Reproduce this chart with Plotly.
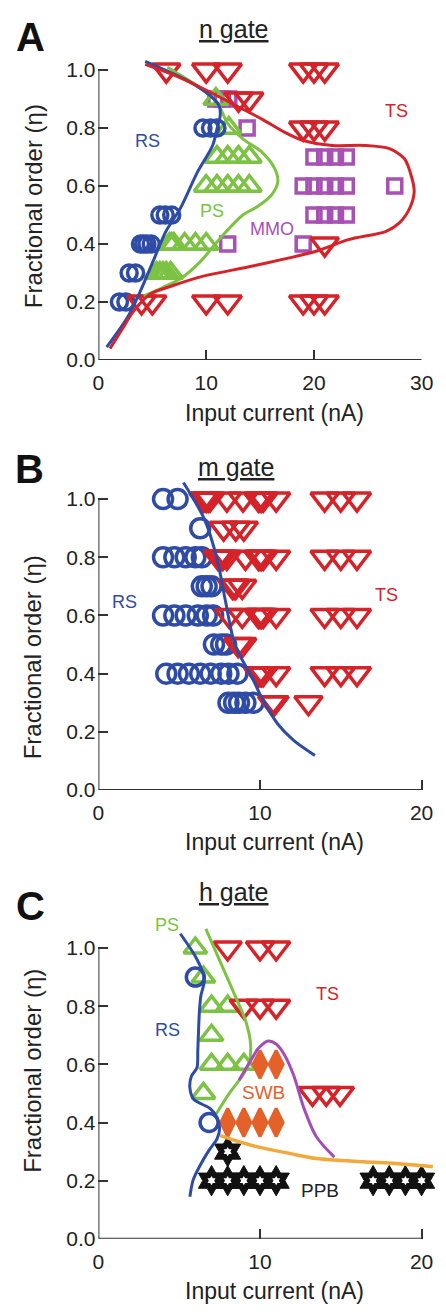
import plotly.graph_objects as go

W, H = 446, 1315

# ---------------- Panel A (n gate) ----------------
rs_a_x = [9.7, 10.4, 11.0, 5.7, 6.2, 6.8, 3.9, 4.2, 4.5, 4.9, 2.85, 3.45, 1.95, 2.55]
rs_a_eta = [0.8, 0.8, 0.8, 0.5, 0.5, 0.5, 0.4, 0.4, 0.4, 0.4, 0.3, 0.3, 0.2, 0.2]

ps_a_x = [10.9, 12.1, 11, 12, 13, 14, 10, 11, 12, 13, 14, 6.6, 6.8, 7.0, 8.0, 9.0, 10.0, 5.4, 5.7, 6.0, 6.3, 6.7]
ps_a_eta = [0.9, 0.8, 0.7, 0.7, 0.7, 0.7, 0.6, 0.6, 0.6, 0.6, 0.6, 0.4, 0.4, 0.4, 0.4, 0.4, 0.4, 0.3, 0.3, 0.3, 0.3, 0.3]

mmo_a_x = [10.9, 11.5, 12.1, 13.8, 20, 21, 22, 23, 19, 20, 21, 22, 23, 27.5, 20, 21, 22, 23, 12, 19]
mmo_a_eta = [0.9, 0.9, 0.9, 0.8, 0.7, 0.7, 0.7, 0.7, 0.6, 0.6, 0.6, 0.6, 0.6, 0.6, 0.5, 0.5, 0.5, 0.5, 0.4, 0.4]

ts_a_x = [6.3, 10, 12, 19, 20, 21, 13, 14, 19, 20, 21, 21, 4, 5, 10, 12, 19, 20, 21]
ts_a_eta = [1.0, 1.0, 1.0, 1.0, 1.0, 1.0, 0.9, 0.9, 0.8, 0.8, 0.8, 0.4, 0.2, 0.2, 0.2, 0.2, 0.2, 0.2, 0.2]

rs_curve_a_x = [4.34, 8.35, 10.4, 11.2, 11.3, 11.0, 10.6, 9.2, 7.6, 6.27, 5.08, 3.9, 2.7, 0.77]
rs_curve_a_eta = [1.03, 0.962, 0.911, 0.877, 0.843, 0.797, 0.74, 0.649, 0.523, 0.444, 0.341, 0.238, 0.147, 0.044]

ts_curve_a_x = [4.34, 6.86, 9.83, 12.8, 15.17, 17.25, 19.0, 21.7, 24.7, 27.0, 28.4, 29.1, 29.3, 28.9, 27.9,
                26.7, 23.2, 20.2, 14.3, 9.83, 6.86, 4.78, 3.3, 2.1, 1.07]
ts_curve_a_eta = [1.02, 0.985, 0.934, 0.877, 0.831, 0.786, 0.757, 0.74, 0.74, 0.729, 0.694, 0.626, 0.58, 0.525, 0.472,
                  0.444, 0.415, 0.375, 0.324, 0.29, 0.256, 0.227, 0.17, 0.10, 0.039]

ps_curve_a_x = [6.4, 9.2, 11.0, 12.0, 13.4, 15.17, 16.36, 16.65, 16.06, 14.8, 13.4, 11.3, 9.5, 7.75, 5.97, 4.2]
ps_curve_a_eta = [1.01, 0.945, 0.89, 0.815, 0.763, 0.717, 0.66, 0.615, 0.569, 0.53, 0.5, 0.42, 0.341, 0.284, 0.25, 0.221]

# ---------------- Panel B (m gate) ----------------
rs_b_x = [4.0, 4.9, 6.3, 4.0, 4.7, 5.4, 6.0, 6.4, 6.4, 6.7, 7.0, 4.0, 4.7, 5.4, 6.15, 6.7, 7.1,
          7.15, 7.6, 7.9, 4.2, 4.9, 5.6, 6.3, 6.95, 7.6, 8.05, 8.6, 8.05, 8.4, 8.7, 9.1, 9.6]
rs_b_eta = [1.0, 1.0, 0.9, 0.8, 0.8, 0.8, 0.8, 0.8, 0.7, 0.7, 0.7, 0.6, 0.6, 0.6, 0.6, 0.6, 0.6,
            0.5, 0.5, 0.5, 0.4, 0.4, 0.4, 0.4, 0.4, 0.4, 0.4, 0.4, 0.3, 0.3, 0.3, 0.3, 0.3]

ts_b_x = [6.5, 6.6, 6.7, 6.8, 6.9, 7.95, 8.95, 9.9, 10.0, 10.1, 10.2, 11.0, 14, 15, 16,
          7.75, 8.5, 9.0,
          7.4, 7.5, 7.6, 7.7, 7.95, 9.1, 9.9, 10.0, 10.1, 10.2, 11.0, 14, 15, 16,
          8.3, 8.4, 8.5, 8.9,
          8.1, 8.9, 9.9, 10.0, 10.1, 10.2, 11.0, 14, 15, 16,
          8.65, 8.9,
          9.9, 10.0, 10.1, 10.2, 11.0, 14, 15, 16,
          10.75, 10.9, 13.0]
ts_b_eta = [1.0, 1.0, 1.0, 1.0, 1.0, 1.0, 1.0, 1.0, 1.0, 1.0, 1.0, 1.0, 1.0, 1.0, 1.0,
            0.9, 0.9, 0.9,
            0.8, 0.8, 0.8, 0.8, 0.8, 0.8, 0.8, 0.8, 0.8, 0.8, 0.8, 0.8, 0.8, 0.8,
            0.7, 0.7, 0.7, 0.7,
            0.6, 0.6, 0.6, 0.6, 0.6, 0.6, 0.6, 0.6, 0.6, 0.6,
            0.5, 0.5,
            0.4, 0.4, 0.4, 0.4, 0.4, 0.4, 0.4, 0.4,
            0.3, 0.3, 0.3]

rs_curve_b_x = [5.26, 6.55, 7.34, 7.83, 8.33, 8.72, 9.52, 10.1, 11.1, 12.1, 13.4]
rs_curve_b_eta = [1.057, 0.932, 0.795, 0.659, 0.523, 0.466, 0.386, 0.318, 0.227, 0.17, 0.119]

# ---------------- Panel C (h gate) ----------------
ts_c_x = [8, 10, 11, 9, 10, 11, 13.25, 14.1, 14.95]
ts_c_eta = [1.0, 1.0, 1.0, 0.8, 0.8, 0.8, 0.5, 0.5, 0.5]

ps_c_x = [6, 6.5, 7, 8, 7, 7, 8, 9, 6.5]
ps_c_eta = [1.0, 0.9, 0.8, 0.8, 0.7, 0.6, 0.6, 0.6, 0.5]

rs_c_x = [6.0, 6.85]
rs_c_eta = [0.9, 0.4]

swb_c_x = [10, 11, 8, 9, 10, 11]
swb_c_eta = [0.6, 0.6, 0.4, 0.4, 0.4, 0.4]

ppb_c_x = [8, 7, 8, 9, 10, 11, 17, 18, 19, 20]
ppb_c_eta = [0.3, 0.2, 0.2, 0.2, 0.2, 0.2, 0.2, 0.2, 0.2, 0.2]

rs_curve_c_x = [5.07, 5.96, 6.45, 6.55, 6.35, 6.25, 6.15, 6.1, 5.76, 5.66, 5.9, 6.94, 7.34, 7.5, 7.34, 6.85,
                6.25, 5.86, 5.66]
rs_curve_c_eta = [1.049, 0.975, 0.917, 0.884, 0.838, 0.781, 0.645, 0.588, 0.56, 0.52, 0.48, 0.447, 0.418, 0.378,
                  0.344, 0.305, 0.248, 0.202, 0.145]

ps_curve_c_x = [6.65, 7.54, 8.53, 9.12, 9.42, 9.3, 8.9, 8.1, 7.3]
ps_curve_c_eta = [1.066, 0.952, 0.827, 0.748, 0.668, 0.6, 0.56, 0.5, 0.43]

swb_curve_c_x = [8.7, 9.5, 9.9, 10.5, 11.0, 11.5, 12.1, 12.7, 13.5, 14.6]
swb_curve_c_eta = [0.545, 0.62, 0.655, 0.68, 0.67, 0.634, 0.56, 0.452, 0.35, 0.281]

ppb_curve_c_x = [7.54, 9.52, 11.9, 13.5, 16.4, 18.4, 20.7]
ppb_curve_c_eta = [0.355, 0.321, 0.293, 0.276, 0.265, 0.259, 0.248]

yticks = [0.0, 0.2, 0.4, 0.6, 0.8, 1.0]
ytick_text = ["0.0", "0.2", "0.4", "0.6", "0.8", "1.0"]
xticks_a = [0, 10, 20, 30]
xticks_bc = [0, 10, 20]

# ---------------- Styling ----------------
BLUE = "#2E4BA6"
RED = "#D52329"
GREEN = "#7CC243"
MAGENTA = "#A651B3"
PURPLE = "#A34DB9"
ORANGE = "#E4622A"
GOLD = "#F0A93A"
AXIS = "#333333"
FONT = "Liberation Sans, Arial, sans-serif"

fig = go.Figure()


def pts(x, y, ax, symbol, size, color, lw=3.5, fill=None):
    fig.add_trace(go.Scatter(
        x=x, y=y, xaxis=ax[0], yaxis=ax[1], mode="markers", cliponaxis=False,
        marker=dict(symbol=symbol, size=size, color=fill if fill else color,
                    line=dict(color=color, width=lw)),
        showlegend=False, hoverinfo="skip"))


def curve(x, y, ax, color, w=3):
    fig.add_trace(go.Scatter(
        x=x, y=y, xaxis=ax[0], yaxis=ax[1], mode="lines", cliponaxis=False,
        line=dict(color=color, width=w, shape="spline", smoothing=0.8),
        showlegend=False, hoverinfo="skip"))


A = ("x", "y")
B = ("x2", "y2")
C = ("x3", "y3")

# Panel A
pts(mmo_a_x, mmo_a_eta, A, "square-open", 14, MAGENTA)
pts(ps_a_x, ps_a_eta, A, "triangle-up-open", 21, GREEN)
pts(rs_a_x, rs_a_eta, A, "circle-open", 16, BLUE)
pts(ts_a_x, ts_a_eta, A, "triangle-down-open", 24, RED)
curve(ps_curve_a_x, ps_curve_a_eta, A, GREEN)
curve(rs_curve_a_x, rs_curve_a_eta, A, BLUE)
curve(ts_curve_a_x, ts_curve_a_eta, A, RED)

# Panel B
pts(rs_b_x, rs_b_eta, B, "circle-open", 19, BLUE)
pts(ts_b_x, ts_b_eta, B, "triangle-down-open", 24, RED)
curve(rs_curve_b_x, rs_curve_b_eta, B, BLUE)

# Panel C
pts(ps_c_x, ps_c_eta, C, "triangle-up-open", 20, GREEN)
pts(rs_c_x, rs_c_eta, C, "circle-open", 18, BLUE)
pts(ts_c_x, ts_c_eta, C, "triangle-down-open", 24, RED)
pts(swb_c_x, swb_c_eta, C, "diamond-tall", 20, ORANGE, lw=3, fill=ORANGE)
pts(ppb_c_x, ppb_c_eta, C, "hexagram", 23, "#111111", lw=1, fill="#111111")
pts(ppb_c_x, ppb_c_eta, C, "hexagram", 7, "#ffffff", lw=0, fill="#ffffff")
curve(ps_curve_c_x, ps_curve_c_eta, C, GREEN)
curve(rs_curve_c_x, rs_curve_c_eta, C, BLUE)
curve(swb_curve_c_x, swb_curve_c_eta, C, PURPLE)
curve(ppb_curve_c_x, ppb_curve_c_eta, C, GOLD, w=3.5)


def ydom(zero_px, top_px):
    return [(H - zero_px) / H, (H - top_px) / H]


YMAX = 1.08
ax_common = dict(showline=False, zeroline=False, showgrid=False, ticks="inside", ticklen=10,
                 tickwidth=2, tickcolor=AXIS, tickfont=dict(family=FONT, size=21, color="#222"))

x0 = 96.3 / W
layout_axes = {}
for i, (xr, xt, zero_px, scale) in enumerate([
        ([0, 30], xticks_a, 363.0, 292.3),
        ([0, 20.77], xticks_bc, 796.7, 293.4),
        ([0, 20.77], xticks_bc, 1249.3, 293.3)]):
    sfx = "" if i == 0 else str(i + 1)
    xend = (96.3 + 11.23 * 30) / W if i == 0 else 1.0
    layout_axes["xaxis" + sfx] = dict(ax_common, domain=[x0, xend], range=xr, tickvals=xt,
                                      ticktext=[str(v) for v in xt], anchor="y" + sfx,
                                      ticklabelstandoff=8)
    layout_axes["yaxis" + sfx] = dict(ax_common, domain=ydom(zero_px, zero_px - YMAX * scale),
                                      range=[0, YMAX], tickvals=yticks, ticktext=ytick_text,
                                      anchor="x" + sfx, ticklabelstandoff=2)

fig.update_layout(**layout_axes)

# spines
shapes = []
for sfx, xmax in [("", 30), ("2", 20), ("3", 20)]:
    shapes.append(dict(type="line", xref="x" + sfx, yref="y" + sfx, x0=0, x1=0, y0=0, y1=1.0,
                       line=dict(color=AXIS, width=2), layer="below"))
    shapes.append(dict(type="line", xref="x" + sfx, yref="y" + sfx, x0=0, x1=xmax, y0=0, y1=0,
                       line=dict(color=AXIS, width=2), layer="below"))

annotations = []


def note(text, xp, yp, size, color="#222", bold=False, angle=0):
    annotations.append(dict(text=("<b>%s</b>" % text) if bold else text, x=xp / W, y=1 - yp / H,
                            xref="paper", yref="paper", showarrow=False, xanchor="center",
                            yanchor="middle", textangle=angle,
                            font=dict(family=FONT, size=size, color=color)))


# panel letters and gate titles
note("A", 26, 37, 40, "#111", bold=True)
note("B", 24, 473, 40, "#111", bold=True)
note("C", 26, 914, 40, "#111", bold=True)
note("<u>n gate</u>", 238, 29, 25, "#222")
note("<u>m gate</u>", 240, 471, 25, "#222")
note("<u>h gate</u>", 238, 900, 25, "#222")

# axis titles
for xc, yc in [(280, 416), (280, 849), (280, 1302)]:
    note("Input current (nA)", xc, yc, 23, "#222")
for xc, yc in [(28, 208), (28, 663), (28, 1080)]:
    note("Fractional order (η)", xc, yc, 24, "#222", angle=-90)

# region labels
note("RS", 147, 142, 18, BLUE)
note("PS", 215, 213, 18, GREEN)
note("MMO", 277, 231, 18, MAGENTA)
note("TS", 407, 112, 18, RED)
note("RS", 123, 607, 18, BLUE)
note("TS", 397, 600, 18, RED)
note("PS", 168, 933, 18, GREEN)
note("RS", 168, 1039, 18, BLUE)
note("TS", 335, 1002, 18, RED)
note("SWB", 268, 1102, 19, ORANGE)
note("PPB", 327, 1201, 19, "#222")

fig.update_layout(width=W, height=H, margin=dict(l=0, r=0, t=0, b=0),
                  paper_bgcolor="white", plot_bgcolor="white",
                  shapes=shapes, annotations=annotations, showlegend=False,
                  font=dict(family=FONT))

fig.write_html("out.html")
